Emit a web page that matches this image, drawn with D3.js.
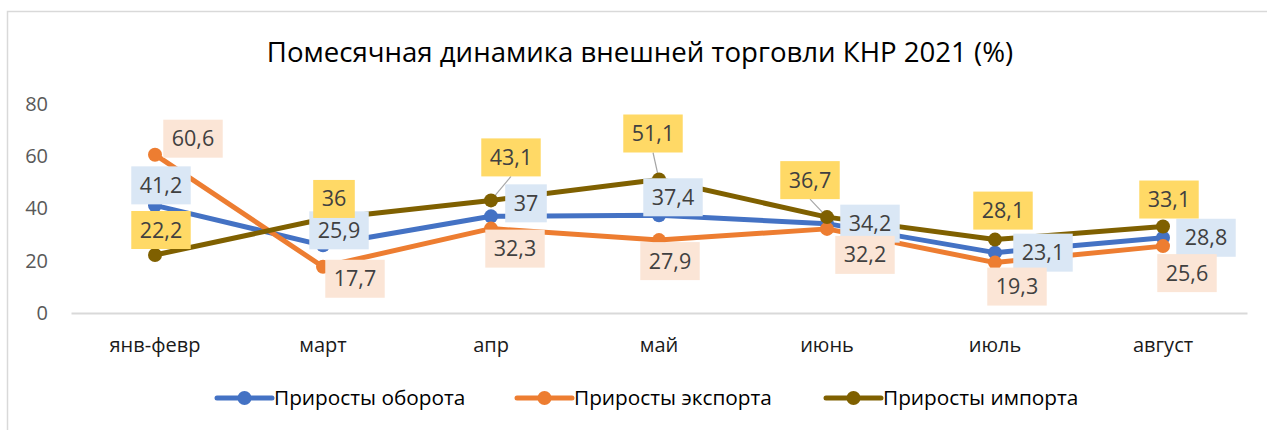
<!DOCTYPE html>
<html>
<head>
<meta charset="utf-8">
<script src="https://cdn.jsdelivr.net/npm/d3@7"></script>
<style>
  body { margin: 0; background: #fff; }
  svg { display: block; font-family: "Open Sans", "Noto Sans", sans-serif; }
</style>
</head>
<body>
<svg id="chart" width="1267" height="430"></svg>
<script>
// chart data
const months = ["янв-февр", "март", "апр", "май", "июнь", "июль", "август"];
const turnover = [41.2, 25.9, 37, 37.4, 34.2, 23.1, 28.8];
const exportsY = [60.6, 17.7, 32.3, 27.9, 32.2, 19.3, 25.6];
const importsY = [22.2, 36, 43.1, 51.1, 36.7, 28.1, 33.1];
const yTicks = [0, 20, 40, 60, 80];
const seriesNames = ["Приросты оборота", "Приросты экспорта", "Приросты импорта"];

// label placement, offsets of the label box centre from its point (px)
const turnoverLabelOff = [[6, -20], [16, -15], [35, -13], [14, -18], [43, 0], [48, 0], [43, 0]];
const exportLabelOff = [[38, -16], [32, 12], [24, 20], [11, 21], [38, 26], [22, 24], [24, 27]];
const importLabelOff = [[6, -25], [11, -20], [20, -43], [-6, -46], [-17, -37], [8, -29], [6, -27]];

const series = [
  {name: seriesNames[0], values: turnover, color: "#4472c4", box: "#dae7f5", off: turnoverLabelOff},
  {name: seriesNames[1], values: exportsY, color: "#ed7d31", box: "#fbe5d6", off: exportLabelOff},
  {name: seriesNames[2], values: importsY, color: "#7f6000", box: "#ffd966", off: importLabelOff}
];

const svg = d3.select("#chart");

// chart frame
svg.append("rect")
  .attr("x", 7.5).attr("y", 11.5)
  .attr("width", 1300).attr("height", 500)
  .attr("fill", "none")
  .attr("stroke", "#d9d9d9")
  .attr("stroke-width", 1.5);

svg.append("text")
  .attr("x", 640).attr("y", 62)
  .attr("text-anchor", "middle")
  .attr("font-size", 27.6)
  .attr("fill", "#000")
  .text("Помесячная динамика внешней торговли КНР 2021 (%)");

const x = d3.scaleBand().domain(months).range([71, 1247]);
const cx = d => x(d) + x.bandwidth() / 2;
const y = d3.scaleLinear().domain([0, 80]).range([313, 104]);

// y axis labels
const yAxis = svg.append("g")
  .attr("transform", "translate(48,0)")
  .call(d3.axisLeft(y).tickValues(yTicks).tickSize(0).tickPadding(0));
yAxis.select(".domain").remove();
yAxis.selectAll("text")
  .attr("font-size", 20)
  .attr("font-family", "\"Open Sans\", sans-serif")
  .attr("fill", "#595959");

// x axis
const xAxis = svg.append("g")
  .attr("transform", "translate(0,313)")
  .call(d3.axisBottom(x).tickSize(0).tickPadding(0));
xAxis.select(".domain")
  .attr("stroke", "#d9d9d9")
  .attr("stroke-width", 2);
xAxis.selectAll("text")
  .attr("font-size", 20)
  .attr("font-family", "\"Open Sans\", sans-serif")
  .attr("fill", "#1a1a1a")
  .attr("dy", 0)
  .attr("y", 39);

const line = d3.line()
  .x((d, i) => cx(months[i]))
  .y(d => y(d));

series.forEach(s => {
  svg.append("path")
    .datum(s.values)
    .attr("d", line)
    .attr("fill", "none")
    .attr("stroke", s.color)
    .attr("stroke-width", 5)
    .attr("stroke-linejoin", "round");
  svg.append("g")
    .selectAll("circle")
    .data(s.values)
    .join("circle")
    .attr("cx", (d, i) => cx(months[i]))
    .attr("cy", d => y(d))
    .attr("r", 7)
    .attr("fill", s.color);
});

// data labels
const fmt = v => String(v).replace(".", ",");
series.forEach(s => {
  s.values.forEach((v, i) => {
    const px = cx(months[i]), py = y(v);
    const lx = px + s.off[i][0], ly = py + s.off[i][1];
    const g = svg.append("g");
    const t = g.append("text")
      .attr("x", lx).attr("y", ly + 7.5)
      .attr("text-anchor", "middle")
      .attr("font-size", 21.5)
      .attr("fill", "#404040")
      .text(fmt(v));
    const w = t.node().getComputedTextLength() + 17, h = 38;
    g.insert("rect", "text")
      .attr("x", lx - w / 2).attr("y", ly - h / 2)
      .attr("width", w).attr("height", h)
      .attr("fill", s.box);
    // leader line when the label sits far from its point
    if (Math.abs(s.off[i][1]) - h / 2 > 15) {
      svg.insert("line", "g")
        .attr("x1", lx).attr("y1", ly - Math.sign(s.off[i][1]) * h / 2)
        .attr("x2", px).attr("y2", py)
        .attr("stroke", "#a6a6a6")
        .attr("stroke-width", 1.2);
    }
  });
});

// legend
const legendX = [217, 517, 826];
const legend = svg.append("g");
series.forEach((s, i) => {
  const lg = legend.append("g").attr("transform", `translate(${legendX[i]},398)`);
  lg.append("line")
    .attr("x1", 0).attr("x2", 55)
    .attr("stroke", s.color).attr("stroke-width", 5)
    .attr("stroke-linecap", "round");
  lg.append("circle").attr("cx", 27.5).attr("r", 7).attr("fill", s.color);
  lg.append("text")
    .attr("x", 57).attr("y", 7)
    .attr("font-size", 20.8)
    .attr("fill", "#000")
    .text(s.name);
});
</script>
</body>
</html>
